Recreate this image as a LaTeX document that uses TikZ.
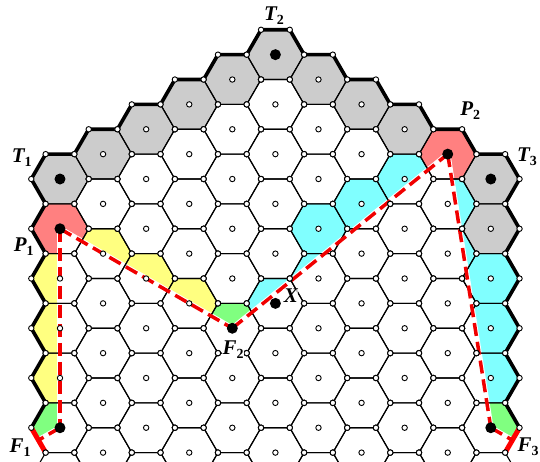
\documentclass[tikz,border=0pt]{standalone}
\usepackage{fontspec}
\setmainfont{Liberation Serif}
\definecolor{cgray}{RGB}{204,204,204}
\definecolor{cred}{RGB}{255,128,128}
\definecolor{cyel}{RGB}{255,255,128}
\definecolor{ccyan}{RGB}{128,255,255}
\definecolor{cgreen}{RGB}{128,255,128}
\definecolor{cdash}{RGB}{240,0,0}
\newcommand{\hexcell}{(1,0) -- (0.5,0.8660254) -- (-0.5,0.8660254) -- (-1,0) -- (-0.5,-0.8660254) -- (0.5,-0.8660254) -- cycle}
\newcommand{\lbl}[2]{{\bfseries\itshape #1}\raisebox{-4bp}{\fontsize{14}{14}\selectfont\bfseries #2}}
\begin{document}
\begin{tikzpicture}[x=28.72bp,y=28.72bp,
  gridl/.style={draw=black,line width=1.1bp},
  border/.style={draw=black,line width=3.6bp,line join=round,line cap=round},
  redge/.style={draw=red,line width=5bp},
  dashl/.style={draw=cdash,line width=3.5bp,dash pattern=on 13bp off 6bp},
  wdot/.style={fill=white,draw=black,line width=0.9bp},
  bdot/.style={circle,fill=black,inner sep=0pt,minimum size=11bp},
  lab/.style={inner sep=0.5bp,font=\fontsize{21}{24}\selectfont}]
\useasboundingbox (-2.089,-9.819) rectangle (16.713,6.233);
\clip (-2.089,-9.819) rectangle (16.713,6.233);
% coordinates
\coordinate (T1) at (0,0);
\coordinate (T2) at (7.5,4.330127);
\coordinate (T3) at (15,0);
\coordinate (P1) at (0,-1.732051);
\coordinate (P2) at (13.5,0.866025);
\coordinate (F1) at (0,-8.660254);
\coordinate (F2) at (6,-5.196152);
\coordinate (F3) at (15,-8.660254);
\coordinate (X) at (7.5,-4.330127);
\coordinate (F1m) at (-0.75,-9.093267);
\coordinate (F3m) at (15.75,-9.093267);
\coordinate (F1a) at (-1,-8.660254);
\coordinate (F1b) at (-0.5,-9.526279);
\coordinate (F3a) at (16,-8.660254);
\coordinate (F3b) at (15.5,-9.526279);
% coloured cells
\foreach \c/\m/\col in {0/0/cgray,1/1/cgray,2/2/cgray,3/3/cgray,4/4/cgray,5/5/cgray,6/4/cgray,7/3/cgray,8/2/cgray,10/0/cgray,10/-2/cgray,
  0/-2/cred,9/1/cred,
  0/-4/cyel,0/-6/cyel,0/-8/cyel,1/-3/cyel,2/-4/cyel,3/-5/cyel,
  0/-10/cgreen,4/-6/cgreen,10/-10/cgreen,
  5/-5/ccyan,6/-4/ccyan,6/-2/ccyan,7/-3/ccyan,7/-1/ccyan,8/0/ccyan,9/-1/ccyan,9/-3/ccyan,10/-4/ccyan,9/-5/ccyan,10/-6/ccyan,10/-8/ccyan}
  \fill[\col, shift={({1.5*\c},{0.8660254*(\m)})}] \hexcell;
% inner (white) region
\path[fill=white,draw=white,line width=5.5bp,line join=round] (F1m) -- (F1) -- (P1) -- (F2) -- (P2) -- (F3) -- (F3m) -- (16.5,-9.526) -- (16.5,-10.5) -- (-1.5,-10.5) -- (-1.5,-9.526) -- cycle;
% grid
\foreach \c in {0,...,10}{
  \pgfmathtruncatemacro{\mt}{min(\c,10-\c)}
  \pgfmathtruncatemacro{\mn}{\mt-2}
  \foreach \m in {\mt,\mn,...,-14}{
    \draw[gridl, shift={({1.5*\c},{0.8660254*(\m)})}] \hexcell;
  }
}
% board border
\draw[border] (F1a) -- (-0.5,-7.794) -- (-1,-6.928) -- (-0.5,-6.062) -- (-1,-5.196) -- (-0.5,-4.330) -- (-1,-3.464) -- (-0.5,-2.598) -- (-1,-1.732) -- (-0.5,-0.866) -- (-1,0) -- (-0.5,0.866) -- (0.5,0.866) -- (1,1.732) -- (2,1.732) -- (2.5,2.598) -- (3.5,2.598) -- (4,3.464) -- (5,3.464) -- (5.5,4.330) -- (6.5,4.330) -- (7,5.196) -- (8,5.196) -- (8.5,4.330) -- (9.5,4.330) -- (10,3.464) -- (11,3.464) -- (11.5,2.598) -- (12.5,2.598) -- (13,1.732) -- (14,1.732) -- (14.5,0.866) -- (15.5,0.866) -- (16,0) -- (15.5,-0.866) -- (16,-1.732) -- (15.5,-2.598) -- (16,-3.464) -- (15.5,-4.330) -- (16,-5.196) -- (15.5,-6.062) -- (16,-6.928) -- (15.5,-7.794) -- (F3a);
\draw[redge] (F1a) -- (F1b);
\draw[redge] (F3a) -- (F3b);
% dashed path
\draw[dashl] (P1) -- (F1);
\draw[dashl] (P1) -- (F2);
\draw[dashl] (F2) -- (P2);
\draw[dashl] (P2) -- (F3);
\draw[dashl] (F1) -- (F1m);
\draw[dashl] (F3) -- (F3m);
% vertex and centre dots
\foreach \c in {0,...,10}{
  \pgfmathtruncatemacro{\mt}{min(\c,10-\c)}
  \pgfmathtruncatemacro{\mn}{\mt-2}
  \foreach \m in {\mt,\mn,...,-14}{
    \begin{scope}[shift={({1.5*\c},{0.8660254*(\m)})}]
      \foreach \a in {0,60,...,300}
        \path[wdot] (\a:1) circle[radius=2.7bp];
      \path[wdot] (0,0) circle[radius=2.7bp];
    \end{scope}
  }
}
% special points
\foreach \p in {T1,T2,T3,P1,P2,F1,F2,F3,X}
  \node[bdot] (d\p) at (\p) {};
% labels
\node[lab] (lT1) at (-1.33,0.74) {\lbl{T}{1}};
\node[lab] (lT2) at (7.45,5.68) {\lbl{T}{2}};
\node[lab] (lT3) at (16.26,0.77) {\lbl{T}{3}};
\node[lab] (lP1) at (-1.26,-2.37) {\lbl{P}{1}};
\node[lab] (lP2) at (14.28,2.37) {\lbl{P}{2}};
\node[lab] (lF1) at (-1.39,-9.37) {\lbl{F}{1}};
\node[lab,fill=white] (lF2) at (6.03,-5.95) {\lbl{F}{2}};
\node[lab] (lF3) at (16.30,-9.33) {\lbl{F}{3}};
\node[lab,fill=white,fill opacity=0.7,text opacity=1] (lX) at (8.04,-4.07) {\bfseries\itshape X};
\end{tikzpicture}
\end{document}
